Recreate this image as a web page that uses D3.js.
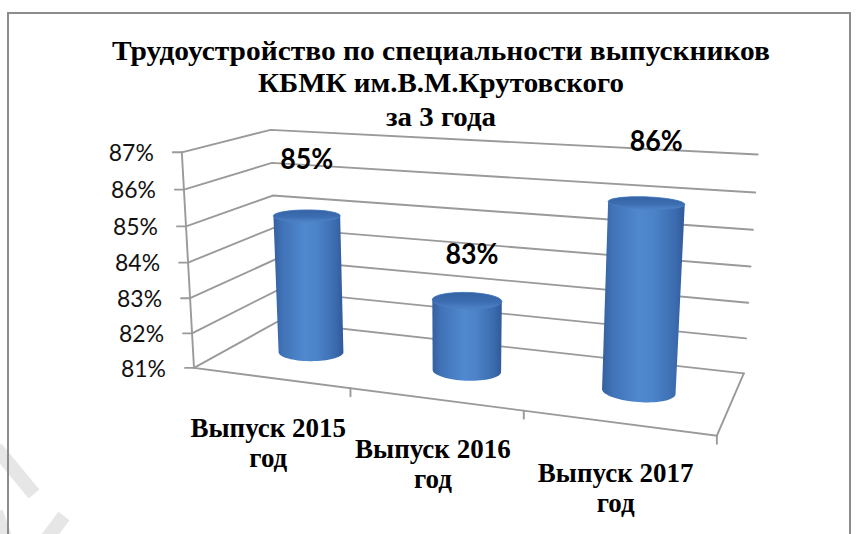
<!DOCTYPE html>
<html><head><meta charset="utf-8">
<script src="https://cdn.jsdelivr.net/npm/d3@7"></script>
<style>html,body{margin:0;padding:0;background:#fff;} svg{display:block}</style>
</head><body>
<svg id="chart" width="860" height="534"></svg>
<script>
// ---------- data ----------
const titleLines = ["Трудоустройство по специальности выпускников", "КБМК им.В.М.Крутовского", "за 3 года"];
const categories = ["Выпуск 2015 год", "Выпуск 2016 год", "Выпуск 2017 год"];
const categoryLines = [["Выпуск 2015", "год"], ["Выпуск 2016", "год"], ["Выпуск 2017", "год"]];
const values = [85, 83, 86];
const valueLabels = ["85%", "83%", "86%"];
const yTicks = [81, 82, 83, 84, 85, 86, 87];
const yTickLabels = ["81%", "82%", "83%", "84%", "85%", "86%", "87%"];

// ---------- scales ----------
const xScale = d3.scaleBand().domain(categories).range([0, 3]).padding(0);
const yScale = d3.scaleLinear().domain([81, 87]).range([0, 3]);

// ---------- perspective frame (layout calibration: world [X, value, Z] -> screen) ----------
const frameCalib = [
  [0, 87, 0, 182, 152], [0, 86, 0, 184, 189], [0, 85, 0, 186, 226], [0, 84, 0, 188, 263],
  [0, 83, 0, 190, 298], [0, 82, 0, 192, 333], [0, 81, 0, 195, 367],
  [0, 87, 1, 271, 129], [0, 86, 1, 272, 163], [0, 85, 1, 272, 197],
  [3, 87, 1, 758, 155], [3, 86, 1, 755, 193], [3, 85, 1, 753, 230], [3, 84, 1, 750, 267],
  [3, 83, 1, 748, 302], [3, 82, 1, 747, 337], [3, 81, 1, 744, 373],
  [1, 81, 0, 350, 390], [2, 81, 0, 523, 412], [3, 81, 0, 717, 435]
];

function fitProjection(pts) {
  const rows = [], rhs = [];
  pts.forEach(([X, val, Z, u, v]) => {
    const Y = yScale(val), U = u / 100, V = v / 100;
    rows.push([X, Y, Z, 1, 0, 0, 0, 0, -U * X, -U * Y, -U * Z]); rhs.push(U);
    rows.push([0, 0, 0, 0, X, Y, Z, 1, -V * X, -V * Y, -V * Z]); rhs.push(V);
  });
  const n = 11;
  const M = Array.from({length: n}, () => new Array(n + 1).fill(0));
  rows.forEach((r, k) => {
    for (let i = 0; i < n; i++) {
      for (let j = 0; j < n; j++) M[i][j] += r[i] * r[j];
      M[i][n] += r[i] * rhs[k];
    }
  });
  for (let c = 0; c < n; c++) {
    let piv = c;
    for (let r = c + 1; r < n; r++) if (Math.abs(M[r][c]) > Math.abs(M[piv][c])) piv = r;
    [M[c], M[piv]] = [M[piv], M[c]];
    for (let r = 0; r < n; r++) {
      if (r === c) continue;
      const f = M[r][c] / M[c][c];
      for (let k = c; k <= n; k++) M[r][k] -= f * M[c][k];
    }
  }
  return M.map((row, i) => row[n] / row[i]);
}
const P = fitProjection(frameCalib);
function proj(X, val, Z) {
  const Y = yScale(val);
  const w = P[8] * X + P[9] * Y + P[10] * Z + 1;
  return [100 * (P[0] * X + P[1] * Y + P[2] * Z + P[3]) / w,
          100 * (P[4] * X + P[5] * Y + P[6] * Z + P[7]) / w];
}

// ---------- drawing ----------
const svg = d3.select("#chart");
const defs = svg.append("defs");
const grad = defs.append("linearGradient").attr("id", "cyl").attr("x1", 0).attr("x2", 1).attr("y1", 0).attr("y2", 0);
[[0, "#33609f"], [0.12, "#4072b6"], [0.45, "#5089cf"], [0.62, "#4c83c9"], [0.88, "#3c6caf"], [1, "#30599a"]]
  .forEach(([o, c]) => grad.append("stop").attr("offset", o).attr("stop-color", c));
const gradTop = defs.append("linearGradient").attr("id", "cyltop").attr("x1", 0).attr("x2", 0).attr("y1", 0).attr("y2", 1);
[[0, "#3562a2"], [0.6, "#3d6eb3"], [1, "#4f84c8"]]
  .forEach(([o, c]) => gradTop.append("stop").attr("offset", o).attr("stop-color", c));

// watermark fragments
const wm = svg.append("g").attr("stroke", "#e6e6e6").attr("stroke-width", 14).attr("fill", "none");
wm.append("line").attr("x1", -4).attr("y1", 448).attr("x2", 34).attr("y2", 494);
wm.append("line").attr("x1", 46).attr("y1", 540).attr("x2", 64).attr("y2", 516);
wm.append("line").attr("x1", -4).attr("y1", 512).attr("x2", 6).attr("y2", 540);

// outer frame
svg.append("rect").attr("x", 8).attr("y", 13).attr("width", 842).attr("height", 600)
  .attr("fill", "none").attr("stroke", "#8c8c8c").attr("stroke-width", 2);

const gridColor = "#9a9a9a";
const grid = svg.append("g").attr("stroke", gridColor).attr("stroke-width", 1.9).attr("fill", "none").attr("stroke-linecap", "round");
const line = d3.line();

// left wall + back wall gridlines
yTicks.forEach(t => {
  grid.append("path").attr("d", line([proj(0, t, 0), proj(0, t, 1), proj(3, t, 1)]));
});
// front-left vertical axis
grid.append("path").attr("d", line([proj(0, 81, 0), proj(0, 87, 0)]));
// y ticks
yTicks.forEach(t => {
  const p = proj(0, t, 0);
  grid.append("path").attr("d", line([[p[0] - 9, p[1]], p]));
});
// floor front edge and right edge
grid.append("path").attr("d", line([proj(0, 81, 0), proj(3, 81, 0), proj(3, 81, 1)]));
// category ticks
[1, 2, 3].forEach(i => {
  const p = proj(i, 81, 0);
  grid.append("path").attr("d", line([p, [p[0], p[1] + 8]]));
});

// y tick labels
svg.append("g").selectAll("text").data(yTicks).join("text")
  .attr("x", t => proj(0, t, 0)[0] - 28)
  .attr("y", t => proj(0, t, 0)[1] + 3)
  .attr("text-anchor", "end").attr("dominant-baseline", "middle")
  .attr("font-family", "Lato, 'Open Sans', sans-serif").attr("font-size", 23)
  .attr("fill", "#111")
  .attr("textLength", 45).attr("lengthAdjust", "spacingAndGlyphs")
  .text((t, i) => yTickLabels[i]);

// cylinders
const zc = 0.5, rz = 0.17;
const cylG = svg.append("g");
categories.forEach((c, i) => {
  const xc = xScale(c) + xScale.bandwidth() / 2;
  const rx = xScale.bandwidth() * 0.2;
  const top = [], bottom = [];
  for (let k = 0; k < 72; k++) {
    const a = k / 72 * 2 * Math.PI;
    top.push(proj(xc + rx * Math.cos(a), values[i], zc + rz * Math.sin(a)));
    bottom.push(proj(xc + rx * Math.cos(a), 81, zc + rz * Math.sin(a)));
  }
  const hull = d3.polygonHull(top.concat(bottom));
  cylG.append("path").attr("d", "M" + hull.join("L") + "Z").attr("fill", "url(#cyl)");
  cylG.append("path").attr("d", "M" + top.join("L") + "Z").attr("fill", "url(#cyltop)")
    .attr("stroke", "#4a7fc3").attr("stroke-width", 0.8);
});

// value labels
svg.append("g").selectAll("text").data(values).join("text")
  .attr("x", (v, i) => proj(xScale(categories[i]) + xScale.bandwidth() / 2, v, zc)[0] + 5 * i)
  .attr("y", (v, i) => proj(xScale(categories[i]) + xScale.bandwidth() / 2, v, zc)[1] - (33 + 5.3 * (v - 81)))
  .attr("text-anchor", "middle").attr("dominant-baseline", "middle")
  .attr("font-family", "Lato, 'Open Sans', sans-serif").attr("font-weight", "bold").attr("font-size", 28)
  .attr("fill", "#000")
  .attr("textLength", 53).attr("lengthAdjust", "spacingAndGlyphs")
  .text((v, i) => valueLabels[i]);

// category labels
const catG = svg.append("g").attr("font-family", "'Liberation Serif', 'Times New Roman', serif")
  .attr("font-weight", "bold").attr("font-size", 27).attr("fill", "#000").attr("text-anchor", "middle");
categories.forEach((c, i) => {
  const p = proj(xScale(c) + xScale.bandwidth() / 2, 81, 0);
  categoryLines[i].forEach((s, j) => {
    catG.append("text").attr("x", p[0] - 2).attr("y", p[1] + 59 + 30 * j).text(s);
  });
});

// title
const titleY = [60, 92, 126];
const titleWidths = [658, 366, 110];
svg.append("g").selectAll("text").data(titleLines).join("text")
  .attr("x", 441).attr("y", (d, i) => titleY[i])
  .attr("text-anchor", "middle")
  .attr("font-family", "'Liberation Serif', 'Times New Roman', serif")
  .attr("font-weight", "bold").attr("font-size", 27).attr("fill", "#000")
  .attr("textLength", (d, i) => titleWidths[i]).attr("lengthAdjust", "spacingAndGlyphs")
  .text(d => d);
</script>
</body></html>
